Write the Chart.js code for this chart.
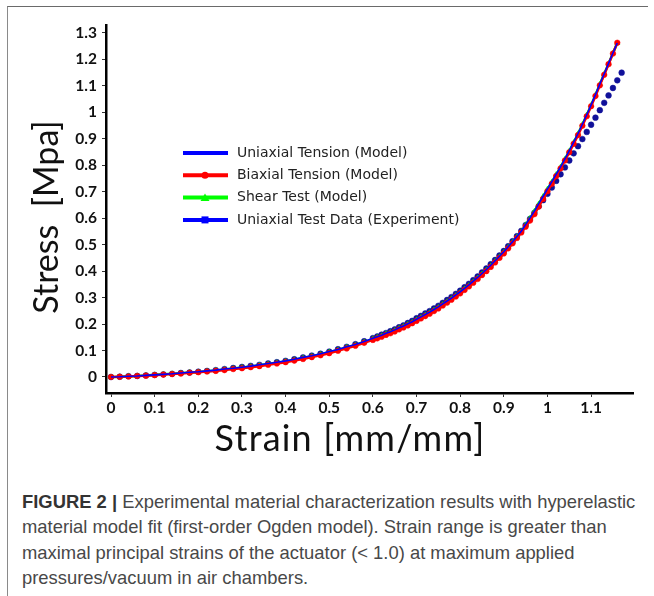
<!DOCTYPE html>
<html>
<head>
<meta charset="utf-8">
<title>Stress-strain: Ogden model fit</title>
<script src="https://cdn.jsdelivr.net/npm/chart.js@4.4.1/dist/chart.umd.min.js"></script>
<style>
  html, body { margin: 0; padding: 0; background: #fff; }
  body { width: 654px; height: 596px; position: relative; overflow: hidden; }
  #frame {
    position: absolute; left: 7px; top: 6px; width: 640px; height: 600px;
    border-left: 1.5px solid #8a8a8a; border-top: 1.5px solid #6a6a6a;
  }
  #chartBox { position: absolute; left: 0; top: 0; width: 654px; height: 470px; }
  #caption {
    position: absolute; left: 22px; top: 489px; width: 640px;
    font-family: "Liberation Sans", Arial, sans-serif; font-size: 18.4px;
    line-height: 25.3px; color: #484848; white-space: nowrap;
  }
  #caption b { color: #333; }
</style>
</head>
<body>
<div id="frame"></div>
<div id="chartBox"><canvas id="stressChart" width="654" height="470"></canvas></div>
<div id="caption"><b>FIGURE 2 |</b> Experimental material characterization results with hyperelastic<br>material model fit (first-order Ogden model). Strain range is greater than<br>maximal principal strains of the actuator (&lt; 1.0) at maximum applied<br>pressures/vacuum in air chambers.</div>

<script>
/* #region  DATA */
// strain [mm/mm] used by the three model curves
const modelStrain = [
  0, 0.02, 0.04, 0.06, 0.08, 0.1, 0.12, 0.14, 0.16, 0.18, 0.2, 0.22, 0.24, 0.26, 0.28, 0.3,
  0.32, 0.34, 0.36, 0.38, 0.4, 0.42, 0.44, 0.46, 0.48, 0.5, 0.52, 0.54, 0.56, 0.58, 0.6,
  0.61, 0.62, 0.63, 0.64, 0.65, 0.66, 0.67, 0.68, 0.69, 0.7, 0.71, 0.72, 0.73, 0.74, 0.75,
  0.76, 0.77, 0.78, 0.79, 0.8, 0.81, 0.82, 0.83, 0.84, 0.85, 0.86, 0.87, 0.88, 0.89, 0.9,
  0.91, 0.92, 0.93, 0.94, 0.95, 0.96, 0.97, 0.98, 0.99, 1, 1.01, 1.02, 1.03, 1.04, 1.05,
  1.06, 1.07, 1.08, 1.09, 1.1, 1.11, 1.12, 1.13, 1.14, 1.15, 1.16,
];

// stress [MPa]
const uniaxialModel = [
  0, 0.001, 0.003, 0.004, 0.006, 0.008, 0.01, 0.012, 0.015, 0.018, 0.02, 0.023, 0.026, 0.03, 0.033, 0.037,
  0.041, 0.046, 0.051, 0.056, 0.061, 0.067, 0.074, 0.08, 0.088, 0.096, 0.104, 0.114, 0.123, 0.134, 0.146,
  0.152, 0.158, 0.165, 0.171, 0.178, 0.186, 0.193, 0.201, 0.209, 0.218, 0.227, 0.236, 0.245, 0.255, 0.265,
  0.276, 0.287, 0.298, 0.31, 0.322, 0.335, 0.348, 0.362, 0.376, 0.391, 0.406, 0.422, 0.439, 0.456, 0.473,
  0.492, 0.511, 0.531, 0.551, 0.576, 0.601, 0.627, 0.655, 0.683, 0.711, 0.738, 0.766, 0.794, 0.824, 0.855,
  0.887, 0.92, 0.955, 0.991, 1.028, 1.067, 1.107, 1.146, 1.185, 1.224, 1.262,
];

const biaxialModel = [
  0, 0.001, 0.002, 0.004, 0.005, 0.007, 0.009, 0.011, 0.013, 0.016, 0.018, 0.021, 0.023, 0.026, 0.03, 0.033,
  0.037, 0.041, 0.046, 0.051, 0.056, 0.062, 0.068, 0.075, 0.082, 0.09, 0.099, 0.108, 0.118, 0.129, 0.14,
  0.146, 0.152, 0.159, 0.165, 0.172, 0.18, 0.187, 0.195, 0.203, 0.212, 0.221, 0.23, 0.239, 0.249, 0.259,
  0.27, 0.281, 0.292, 0.304, 0.316, 0.329, 0.342, 0.356, 0.37, 0.385, 0.4, 0.416, 0.433, 0.45, 0.467,
  0.486, 0.505, 0.525, 0.546, 0.568, 0.591, 0.615, 0.644, 0.673, 0.702, 0.73, 0.759, 0.788, 0.818, 0.849,
  0.881, 0.914, 0.949, 0.985, 1.023, 1.062, 1.102, 1.142, 1.182, 1.222, 1.263,
];

const shearModel = [
  0, 0.001, 0.003, 0.004, 0.006, 0.008, 0.01, 0.012, 0.014, 0.017, 0.019, 0.022, 0.025, 0.028, 0.032, 0.036,
  0.04, 0.044, 0.049, 0.054, 0.059, 0.065, 0.072, 0.078, 0.086, 0.094, 0.102, 0.112, 0.121, 0.132, 0.144,
  0.15, 0.156, 0.163, 0.169, 0.176, 0.184, 0.191, 0.199, 0.207, 0.216, 0.225, 0.234, 0.243, 0.253, 0.263,
  0.274, 0.285, 0.296, 0.308, 0.32, 0.333, 0.346, 0.36, 0.374, 0.389, 0.404, 0.42, 0.437, 0.454, 0.471,
  0.49, 0.509, 0.529, 0.549, 0.575, 0.6, 0.626, 0.654, 0.682, 0.71, 0.737, 0.765, 0.793, 0.823, 0.854,
  0.886, 0.919, 0.954, 0.99, 1.027, 1.066, 1.106, 1.145, 1.184, 1.223, 1.262,
];

// uniaxial test measurements
const testStrain = [
  0, 0.02, 0.04, 0.06, 0.08, 0.1, 0.12, 0.14, 0.16, 0.18, 0.2, 0.22, 0.24, 0.26, 0.28, 0.3,
  0.32, 0.34, 0.36, 0.38, 0.4, 0.42, 0.44, 0.46, 0.48, 0.5, 0.52, 0.54, 0.56, 0.58, 0.6,
  0.61, 0.62, 0.63, 0.64, 0.65, 0.66, 0.67, 0.68, 0.69, 0.7, 0.71, 0.72, 0.73, 0.74, 0.75,
  0.76, 0.77, 0.78, 0.79, 0.8, 0.81, 0.82, 0.83, 0.84, 0.85, 0.86, 0.87, 0.88, 0.89, 0.9,
  0.91, 0.92, 0.93, 0.94, 0.95, 0.96, 0.97, 0.98, 0.99, 1, 1.01, 1.02, 1.03, 1.04, 1.05,
  1.06, 1.07, 1.08, 1.09, 1.1, 1.11, 1.12, 1.13, 1.14, 1.15, 1.16, 1.17,
];

const testStress = [
  0, 0.001, 0.003, 0.004, 0.006, 0.008, 0.01, 0.012, 0.015, 0.017, 0.02, 0.023, 0.026, 0.03, 0.034, 0.038,
  0.042, 0.046, 0.051, 0.056, 0.061, 0.067, 0.074, 0.081, 0.088, 0.096, 0.105, 0.114, 0.124, 0.135, 0.147,
  0.153, 0.16, 0.166, 0.173, 0.18, 0.188, 0.195, 0.204, 0.212, 0.222, 0.231, 0.24, 0.249, 0.259, 0.269,
  0.28, 0.291, 0.302, 0.314, 0.326, 0.339, 0.352, 0.366, 0.38, 0.395, 0.41, 0.426, 0.442, 0.459, 0.476,
  0.494, 0.513, 0.532, 0.552, 0.574, 0.597, 0.62, 0.645, 0.668, 0.692, 0.716, 0.741, 0.766, 0.792, 0.818,
  0.845, 0.872, 0.899, 0.926, 0.953, 0.98, 1.008, 1.036, 1.064, 1.092, 1.121, 1.15,
];

const strainTicks = [0, 0.1, 0.2, 0.3, 0.4, 0.5, 0.6, 0.7, 0.8, 0.9, 1, 1.1];
const stressTicks = [0, 0.1, 0.2, 0.3, 0.4, 0.5, 0.6, 0.7, 0.8, 0.9, 1, 1.1, 1.2, 1.3];
/* #endregion */

/* #region  CHART */
const toPoints = (xs, ys) => ys.map((y, i) => ({ x: xs[i], y: y }));
const tickText = (v) => String(Math.round(v * 10) / 10);
const tickFont = { family: "Lato", weight: "bold", size: 15.5 };

// legend drawn inside the plot, plus the two big axis titles
const legendAndTitles = {
  id: "legendAndTitles",
  afterDraw(chart) {
    const ctx = chart.ctx;
    ctx.save();

    chart.data.datasets.forEach((ds, i) => {
      const y = 153 + i * 22.3;
      ctx.strokeStyle = ds.legendColor;
      ctx.lineWidth = 4;
      ctx.beginPath();
      ctx.moveTo(183, y);
      ctx.lineTo(228, y);
      ctx.stroke();

      ctx.fillStyle = ds.legendColor;
      if (ds.legendMarker === "dot") {
        ctx.beginPath();
        ctx.arc(205, y, 3.5, 0, Math.PI * 2);
        ctx.fill();
      } else if (ds.legendMarker === "triangle") {
        ctx.beginPath();
        ctx.moveTo(205, y - 4);
        ctx.lineTo(209.5, y + 3.5);
        ctx.lineTo(200.5, y + 3.5);
        ctx.closePath();
        ctx.fill();
      } else if (ds.legendMarker === "square") {
        ctx.fillRect(201.5, y - 3.5, 7, 7);
      }

      ctx.fillStyle = "#222";
      ctx.font = '14px "DejaVu Sans"';
      ctx.textAlign = "left";
      ctx.textBaseline = "middle";
      ctx.fillText(ds.label, 237, y);
    });

    ctx.fillStyle = "#111";
    ctx.textAlign = "center";
    ctx.textBaseline = "middle";
    ctx.font = "36px Lato";
    ctx.letterSpacing = "1.2px";
    ctx.fillText("Strain [mm/mm]", 350, 439);

    ctx.letterSpacing = "0px";
    ctx.font = "34px Lato";
    ctx.translate(47, 217);
    ctx.rotate(-Math.PI / 2);
    ctx.fillText("Stress  [Mpa]", 0, 0);
    ctx.restore();
  },
};

const stressChart = new Chart(document.getElementById("stressChart"), {
  type: "scatter",
  data: {
    datasets: [
      {
        label: "Uniaxial Tension (Model)",
        data: toPoints(modelStrain, uniaxialModel),
        showLine: true,
        borderColor: "#0000ff",
        borderWidth: 1.6,
        pointRadius: 0,
        legendColor: "#0000ff",
        legendMarker: "none",
      },
      {
        label: "Biaxial Tension (Model)",
        data: toPoints(modelStrain, biaxialModel),
        showLine: true,
        borderColor: "#ff0000",
        borderWidth: 2.5,
        pointStyle: "circle",
        pointRadius: 2.8,
        pointBackgroundColor: "#ff0000",
        pointBorderColor: "#ff0000",
        pointBorderWidth: 0.5,
        legendColor: "#ff0000",
        legendMarker: "dot",
      },
      {
        label: "Shear Test (Model)",
        data: toPoints(modelStrain, shearModel),
        showLine: true,
        borderColor: "#00ee00",
        borderWidth: 2.5,
        pointStyle: "triangle",
        pointRadius: 3,
        pointBackgroundColor: "#00ee00",
        pointBorderColor: "#00ee00",
        pointBorderWidth: 0.5,
        legendColor: "#00ff00",
        legendMarker: "triangle",
      },
      {
        label: "Uniaxial Test Data (Experiment)",
        data: toPoints(testStrain, testStress),
        showLine: false,
        pointStyle: "circle",
        pointRadius: 2.9,
        pointBackgroundColor: "#10109a",
        pointBorderColor: "#10109a",
        pointBorderWidth: 0.5,
        legendColor: "#0000ff",
        legendMarker: "square",
      },
    ],
  },
  options: {
    responsive: false,
    animation: false,
    devicePixelRatio: 1,
    layout: { padding: { top: 25, right: 21, left: 0, bottom: 0 } },
    plugins: {
      legend: { display: false },
      tooltip: { enabled: false },
    },
    scales: {
      x: {
        type: "linear",
        min: -0.0115,
        max: 1.196,
        afterBuildTicks: (s) => { s.ticks = strainTicks.map((v) => ({ value: v })); },
        afterFit: (s) => { s.height = 77; },
        ticks: {
          callback: tickText,
          autoSkip: false,
          maxRotation: 0,
          padding: 2,
          color: "#111",
          font: tickFont,
        },
        grid: { drawOnChartArea: false, drawTicks: true, tickLength: 4, color: "#333", lineWidth: 1 },
        border: { display: true, color: "#000", width: 2.5 },
      },
      y: {
        type: "linear",
        min: -0.0605,
        max: 1.33,
        afterBuildTicks: (s) => { s.ticks = stressTicks.map((v) => ({ value: v })); },
        afterFit: (s) => { s.width = 106; },
        ticks: {
          callback: tickText,
          autoSkip: false,
          padding: 5,
          color: "#111",
          font: tickFont,
        },
        grid: { drawOnChartArea: false, drawTicks: true, tickLength: 4, color: "#333", lineWidth: 1 },
        border: { display: true, color: "#000", width: 2.5 },
      },
    },
  },
  plugins: [legendAndTitles],
});
/* #endregion */
</script>
</body>
</html>
